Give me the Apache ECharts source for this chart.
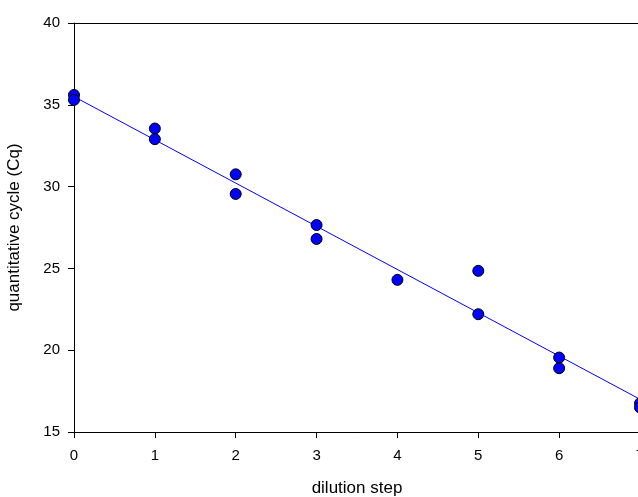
<!DOCTYPE html>
<html>
<head>
<meta charset="utf-8">
<script src="https://cdn.jsdelivr.net/npm/echarts@6/dist/echarts.min.js"></script>
<style>
  html, body { margin: 0; padding: 0; background: #fff; overflow: hidden; }
  #chart { width: 660px; height: 497px; }
</style>
</head>
<body>
<div id="chart"></div>
<script>
  // measured points: dilution step and Cq
  const steps = [0, 0, 1, 1, 2, 2, 3, 3, 4, 5, 5, 6, 6, 7, 7];
  const cq = [35.6, 35.3, 33.55, 32.9, 30.75, 29.55, 27.65, 26.8, 24.3, 24.85, 22.2, 19.55, 18.9, 16.75, 16.5];
  // fitted line endpoints
  const fitX = [0, 7];
  const fitY = [35.5, 17.0];
  const yTicks = [15, 20, 25, 30, 35, 40];

  const font = 'Liberation Sans, Arial, sans-serif';
  const chart = echarts.init(document.getElementById('chart'));

  // the plot runs a little past the right edge of the 638px picture, as in the original
  chart.setOption({
    animation: false,
    grid: { left: 74, top: 23, width: 566, height: 409, outerBoundsMode: 'none' },
    xAxis: {
      type: 'value',
      min: 0,
      max: 7,
      interval: 1,
      name: 'dilution step',
      nameLocation: 'middle',
      nameGap: 48,
      nameTextStyle: { color: '#000', fontSize: 17, fontFamily: font, verticalAlign: 'top' },
      splitLine: { show: false },
      axisLine: { onZero: false, lineStyle: { color: '#000', width: 1 } },
      axisTick: { length: 6, lineStyle: { color: '#000' } },
      axisLabel: { color: '#000', fontSize: 15, fontFamily: font, margin: 16 }
    },
    yAxis: {
      type: 'value',
      min: yTicks[0],
      max: yTicks[yTicks.length - 1],
      interval: 5,
      name: 'quantitative cycle (Cq)',
      nameLocation: 'middle',
      nameGap: 51,
      nameTextStyle: { color: '#000', fontSize: 17, fontFamily: font },
      splitLine: { show: false },
      axisLine: { show: true, lineStyle: { color: '#000', width: 1 } },
      axisTick: { show: true, length: 6, lineStyle: { color: '#000' } },
      axisLabel: { color: '#000', fontSize: 15, fontFamily: font, margin: 14 }
    },
    graphic: [
      {
        type: 'line',
        shape: { x1: 74, y1: 23.5, x2: 640, y2: 23.5 },
        style: { stroke: '#000', lineWidth: 1 }
      }
    ],
    series: [
      {
        type: 'line',
        data: fitX.map((x, i) => [x, fitY[i]]),
        symbol: 'none',
        lineStyle: { color: '#0000ff', width: 1 },
        clip: false,
        z: 2
      },
      {
        type: 'scatter',
        data: steps.map((x, i) => [x, cq[i]]),
        symbolSize: 11,
        itemStyle: { color: '#0000ff', borderColor: '#000', borderWidth: 1, opacity: 1 },
        clip: false,
        z: 3
      }
    ]
  });
</script>
</body>
</html>
